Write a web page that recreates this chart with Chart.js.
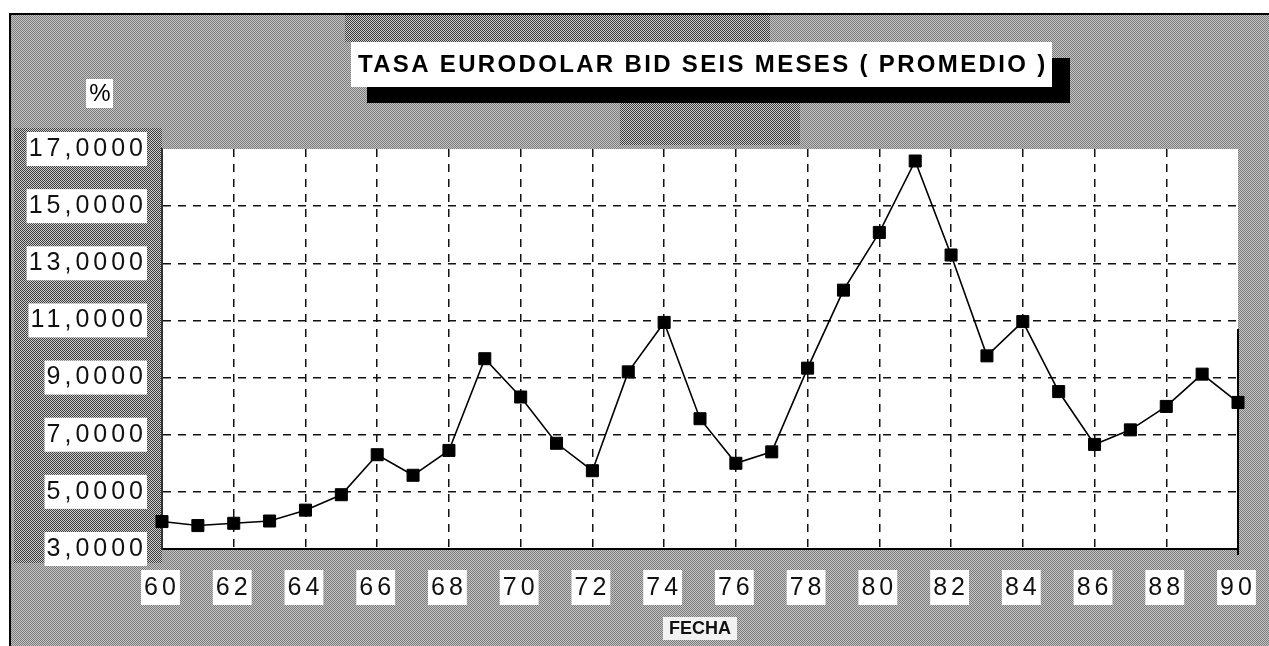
<!DOCTYPE html>
<html lang="es">
<head>
    <meta charset="UTF-8">
    <title>Tasa Eurodolar BID seis meses</title>
    <script src="https://cdn.jsdelivr.net/npm/chart.js"></script>
    <style>
        html, body { margin: 0; padding: 0; background: #fff; }
        canvas { display: block; }
    </style>
</head>
<body>
    <canvas id="tasaChart" width="1269" height="646"></canvas>

    <script>
        // datos
        const titulo = 'TASA EURODOLAR BID SEIS MESES ( PROMEDIO )';
        const unidad = '%';
        const ejeX = 'FECHA';
        const years = [60, 61, 62, 63, 64, 65, 66, 67, 68, 69, 70, 71, 72, 73, 74, 75,
                       76, 77, 78, 79, 80, 81, 82, 83, 84, 85, 86, 87, 88, 89, 90];
        const tasa = [3.96, 3.82, 3.90, 3.98, 4.36, 4.90, 6.30, 5.58, 6.45, 9.66, 8.32,
                      6.70, 5.74, 9.20, 10.93, 7.56, 6.00, 6.40, 9.33, 12.06, 14.08, 16.58,
                      13.29, 9.76, 10.96, 8.51, 6.66, 7.17, 7.99, 9.12, 8.13];
        const yMin = 3, yMax = 17, yStep = 2;
        const xMin = 60, xMax = 90, xStep = 2;

        function makePattern(ctx, dark, light) {
            const pc = document.createElement('canvas');
            pc.width = 2; pc.height = 2;
            const p = pc.getContext('2d');
            p.fillStyle = light; p.fillRect(0, 0, 2, 2);
            p.fillStyle = dark; p.fillRect(0, 0, 1, 1); p.fillRect(1, 1, 1, 1);
            return ctx.createPattern(pc, 'repeat');
        }

        const fondo = {
            id: 'fondo',
            beforeUpdate(chart) {
                chart.ctx.letterSpacing = '4px';
            },
            beforeDraw(chart) {
                const ctx = chart.ctx;
                const a = chart.chartArea;
                ctx.save();
                ctx.letterSpacing = '0px';
                ctx.fillStyle = '#fff';
                ctx.fillRect(0, 0, chart.width, chart.height);
                ctx.fillStyle = makePattern(ctx, '#7c7c7c', '#c4c4c4');
                ctx.fillRect(10, 14, chart.width - 10, chart.height - 14);
                // zonas mas oscuras del fondo
                ctx.fillStyle = makePattern(ctx, '#3a3a3a', '#cfcfcf');
                ctx.fillRect(14, 128, a.left - 14, a.bottom - 128 + 14);
                ctx.fillRect(345, 15, 425, 27);
                ctx.fillRect(620, 100, 180, 45);
                // marco exterior
                ctx.strokeStyle = '#000';
                ctx.lineWidth = 2;
                ctx.beginPath();
                ctx.moveTo(10, chart.height);
                ctx.lineTo(10, 14);
                ctx.lineTo(chart.width, 14);
                ctx.stroke();
                // area del grafico
                ctx.fillStyle = '#fff';
                ctx.fillRect(a.left, a.top, a.right - a.left, a.bottom - a.top);
                ctx.restore();
                ctx.letterSpacing = '4px';
            },
            afterDraw(chart) {
                const ctx = chart.ctx;
                const a = chart.chartArea;
                ctx.save();
                // borde derecho
                ctx.strokeStyle = '#000';
                ctx.lineWidth = 2;
                ctx.beginPath();
                ctx.moveTo(a.right, a.top + 180);
                ctx.lineTo(a.right, a.bottom + 6);
                ctx.stroke();

                // titulo con sombra
                ctx.fillStyle = '#000';
                ctx.fillRect(367, 58, 703, 45);
                ctx.fillStyle = '#fff';
                ctx.fillRect(351, 42, 701, 45);
                ctx.font = 'bold 24px "Liberation Sans", Arial, sans-serif';
                ctx.letterSpacing = '0px';
                const w = ctx.measureText(titulo).width;
                const sp = Math.max(0, (687 - w) / (titulo.length - 1));
                ctx.letterSpacing = sp.toFixed(2) + 'px';
                ctx.fillStyle = '#000';
                ctx.textBaseline = 'middle';
                ctx.textAlign = 'left';
                ctx.fillText(titulo, 358, 65);

                // unidad
                ctx.letterSpacing = '0px';
                ctx.fillStyle = '#fff';
                ctx.fillRect(86, 79, 27, 29);
                ctx.fillStyle = '#000';
                ctx.font = '24px "Liberation Sans", Arial, sans-serif';
                ctx.textAlign = 'center';
                ctx.fillText(unidad, 100, 94);

                // titulo eje x
                const cx = (a.left + a.right) / 2;
                ctx.fillStyle = '#f2f2f2';
                ctx.fillRect(cx - 37, 617, 74, 23);
                ctx.fillStyle = '#111';
                ctx.font = 'bold 18px "Liberation Sans", Arial, sans-serif';
                ctx.fillText(ejeX, cx, 629);
                ctx.restore();
            }
        };

        const ctx = document.getElementById('tasaChart').getContext('2d');
        const tasaChart = new Chart(ctx, {
            type: 'line',
            data: {
                datasets: [{
                    label: 'Tasa',
                    data: years.map((yr, i) => ({ x: yr, y: tasa[i] })),
                    borderColor: '#000',
                    borderWidth: 1.6,
                    pointStyle: 'rect',
                    pointRadius: 8.5,
                    pointBackgroundColor: '#000',
                    pointBorderColor: '#000',
                    pointBorderWidth: 1,
                    tension: 0,
                    clip: false
                }]
            },
            options: {
                responsive: false,
                animation: false,
                events: [],
                layout: { padding: { top: 149, right: 31, left: 0, bottom: 0 } },
                plugins: {
                    legend: { display: false },
                    title: { display: false },
                    tooltip: { enabled: false }
                },
                scales: {
                    x: {
                        type: 'linear',
                        min: xMin,
                        max: xMax,
                        afterFit: s => { s.height = 97; s.paddingLeft = 0; s.paddingRight = 0; },
                        grid: {
                            drawTicks: false,
                            color: c => (c.tick.value === xMin || c.tick.value === xMax) ? 'rgba(0,0,0,0)' : '#111',
                            lineWidth: 1.5
                        },
                        border: { display: true, color: '#000', width: 2, dash: [8, 7] },
                        ticks: {
                            stepSize: xStep,
                            padding: 24,
                            color: '#111',
                            font: { family: '"Liberation Sans", Arial, sans-serif', size: 25 },
                            showLabelBackdrop: true,
                            backdropColor: '#fff',
                            backdropPadding: { top: 3, bottom: 2, left: 3, right: 0 },
                            maxRotation: 0,
                            callback: v => String(v)
                        }
                    },
                    y: {
                        min: yMin,
                        max: yMax,
                        afterFit: s => { s.width = 162; s.paddingTop = 0; s.paddingBottom = 0; },
                        grid: {
                            drawTicks: false,
                            color: c => (c.tick.value === yMin || c.tick.value === yMax) ? 'rgba(0,0,0,0)' : '#111',
                            lineWidth: 1.5
                        },
                        border: { display: true, color: '#333', width: 2, dash: [8, 7] },
                        ticks: {
                            stepSize: yStep,
                            padding: 15,
                            color: '#111',
                            font: { family: '"Liberation Sans", Arial, sans-serif', size: 25 },
                            showLabelBackdrop: true,
                            backdropColor: '#fff',
                            backdropPadding: { top: 2, bottom: 2, left: 2, right: 0 },
                            callback: v => v.toFixed(4).replace('.', ',')
                        }
                    }
                }
            },
            plugins: [fondo]
        });
    </script>
</body>
</html>
